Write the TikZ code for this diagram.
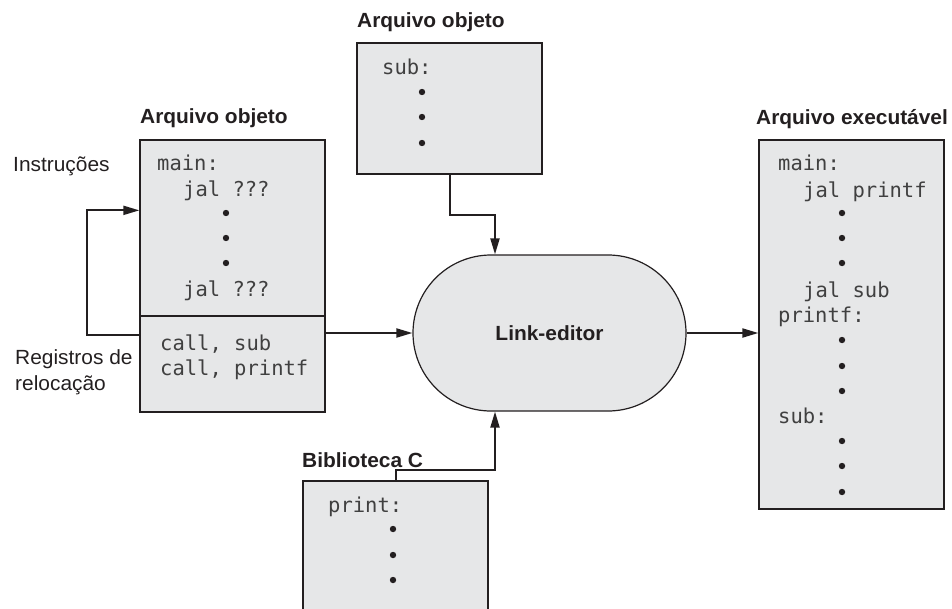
\documentclass[tikz,border=0pt]{standalone}
\usepackage{fontspec}
\setmainfont{Liberation Sans}[FakeStretch=1.02]
\setmonofont{DejaVu Sans Mono}
\usetikzlibrary{arrows.meta,calc,shapes.misc}
\definecolor{boxgray}{HTML}{E6E7E8}
\definecolor{ink}{HTML}{231F20}
\definecolor{codeink}{HTML}{404040}
\tikzset{
  memb/.style={draw=ink, fill=boxgray, line width=1.3pt, inner sep=0pt, minimum width=185pt},
  code/.style={anchor=base west, inner sep=0pt, font=\ttfamily\fontsize{20.5}{24}\selectfont, text=codeink},
  lbl/.style={anchor=base west, inner sep=0pt, font=\fontsize{20.5}{24}\selectfont, text=ink},
  hdr/.style={anchor=base west, inner sep=0pt, font=\bfseries\fontsize{20.5}{24}\selectfont, text=ink},
  conn/.style={line width=2pt, draw=ink},
  arr/.style={conn, -{Triangle[length=16pt,width=9pt]}},
}
\begin{document}
\begin{tikzpicture}[x=1pt,y=-1pt]
\useasboundingbox (0,0) rectangle (952,608);

% boxes
\node[memb, minimum height=176pt] (leftinst) at (232.5,228) {};
\node[memb, minimum height=96pt] (leftreloc) at (232.5,364) {};
\node[memb, minimum height=131pt] (topbox) at (449.5,108.5) {};
\node[memb, minimum height=139pt] (botbox) at (395.5,550.5) {};
\node[memb, minimum height=369pt] (rightbox) at (851.5,324.5) {};
\node[rounded rectangle, draw=ink, fill=boxgray, line width=1.2pt, minimum width=273pt, minimum height=156pt, inner sep=0pt] (link) at (549.5,333) {};
\node[font=\bfseries\fontsize{20.5}{24}\selectfont, text=ink] (linklbl) at (link.center) {Link-editor};

% headers
\node[hdr] (h1) at (140,123) {Arquivo objeto};
\node[hdr] (h2) at (357,27) {Arquivo objeto};
\node[hdr] (h3) at (756,124) {Arquivo executável};
\node[hdr] (h4) at (302,467) {Biblioteca C};

% side labels
\node[lbl] (l1) at (13,171) {Instruções};
\node[lbl] (l2) at (15,364) {Registros de};
\node[lbl] (l3) at (15,390) {relocação};

% left box code
\node[code] (c1) at (157,170) {main:};
\node[code] (c2) at (183,196) {jal ???};
\node[code] (c3) at (183,296) {jal ???};
\node[code] (c4) at (160,350) {call, sub};
\node[code] (c5) at (160,375) {call, printf};
\foreach \y in {213,238,263} \fill[ink] (226,\y) circle (3.2pt);

% top box code
\node[code] (t1) at (382,74) {sub:};
\foreach \y in {92,117,143} \fill[ink] (422,\y) circle (3.2pt);

% bottom box code
\node[code] (b1) at (328,512) {print:};
\foreach \y in {529,555,580} \fill[ink] (393,\y) circle (3.2pt);

% right box code
\node[code] (r1) at (778,170) {main:};
\node[code] (r2) at (803,197) {jal printf};
\node[code] (r3) at (803,297) {jal sub};
\node[code] (r4) at (778,322) {printf:};
\node[code] (r5) at (778,423) {sub:};
\foreach \y in {213,238,263,340,366,391,441,466,492} \fill[ink] (842,\y) circle (3.2pt);

% connectors
\coordinate (loopfrom) at ($(leftreloc.north west)+(0,20)$);
\coordinate (loopto) at ($(leftinst.north west)+(0,71)$);
\draw[arr] (loopfrom) -- ++(-52,0) |- (loopto);

\draw[arr] (leftreloc.east |- link.west) -- (link.west);
\draw[arr] (link.east) -- (rightbox.west |- link.east);

\coordinate (linktop) at ($(link.north)+(-54.5,0)$);
\coordinate (linkbot) at ($(link.south)+(-54.5,0)$);
\draw[arr] (topbox.south) -- ++(0,40) -| (linktop);
\draw[arr] (botbox.north) -- ++(0,-10) -| (linkbot);
\end{tikzpicture}
\end{document}
